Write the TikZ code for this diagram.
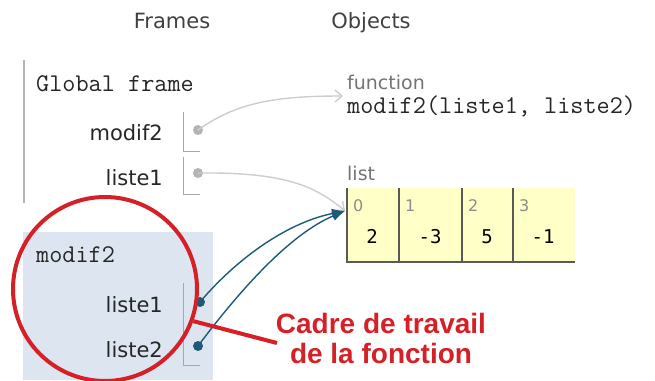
\documentclass[tikz,border=0pt]{standalone}
\usepackage{fontspec}
\setmainfont{DejaVu Sans}
\newfontfamily\valfont{DejaVu Sans Mono}
\newfontfamily\notefont{Liberation Sans}
\usetikzlibrary{arrows.meta}
\definecolor{ptline}{HTML}{A8A8A8}
\definecolor{ptlink}{HTML}{CDCDCD}
\definecolor{ptdot}{HTML}{B4B4B4}
\definecolor{ptblue}{HTML}{1D5A78}
\definecolor{ptyellow}{HTML}{FFFFC8}
\definecolor{ptframe}{HTML}{DDE6F0}
\definecolor{ptred}{HTML}{D42026}
\begin{document}
\begin{tikzpicture}[x=1pt,y=-1pt,
  head/.style={font=\fontsize{21}{21}\selectfont,text=black!75,inner sep=0pt,anchor=base},
  varname/.style={font=\fontsize{21}{21}\selectfont,text=black!85,inner sep=0pt,anchor=base east},
  code/.style={font=\ttfamily\fontsize{25.5}{25.5}\selectfont,text=black!85,inner sep=0pt,anchor=base west},
  tag/.style={font=\fontsize{19}{19}\selectfont,text=black!55,inner sep=0pt,anchor=base west},
  idx/.style={font=\fontsize{16}{16}\selectfont,text=black!45,inner sep=0pt,anchor=base west},
  val/.style={font=\valfont\fontsize{19}{19}\selectfont,inner sep=0pt,anchor=base},
  refdot/.style={circle,inner sep=0pt,minimum size=10pt,fill=#1},
  bracket/.style={ptline,line width=1pt},
  greylink/.style={ptlink,line width=1.4pt,-{Straight Barb[length=7pt,width=12pt]}},
  bluelink/.style={ptblue,line width=1.4pt,-{Latex[length=13pt,width=10pt]}}]
\useasboundingbox (0,0) rectangle (655,380);
% headings
\node[head] (frames) at (172,28) {Frames};
\node[head] (objects) at (371,28) {Objects};
%
% global frame
\draw[ptline!85,line width=1.2pt] (24,60) -- (24,203);
\node[code] (global) at (36,91) {Global frame};
\node[varname] (gmodif) at (163,140) {modif2};
\node[varname] (gliste) at (163,185) {liste1};
\draw[bracket] (183,112) -- (183,151) -- (200,151);
\draw[bracket] (183,157) -- (183,194) -- (200,194);
\node[refdot=ptdot] (dotmodif) at (198,130) {};
\node[refdot=ptdot] (dotliste) at (198,173) {};
%
% frame of the call
\fill[ptframe] (23,232) rectangle (213,380);
\node[code] (call) at (36,262) {modif2};
\node[varname] (argone) at (163,312) {liste1};
\node[varname] (argtwo) at (163,357) {liste2};
\draw[bracket] (183,283) -- (183,365) -- (200,365);
\node[refdot=ptblue] (dotone) at (200,302) {};
\node[refdot=ptblue] (dottwo) at (198,346) {};
%
% objects
\node[tag] (fntag) at (347,89) {function};
\node[code] (fnsig) at (347,113) {modif2(liste1, liste2)};
\node[tag] (lsttag) at (347,180) {list};
\fill[ptyellow] (347,188) rectangle (575,262);
\draw[black!65,line width=1.2pt] (347,188) -- (347,262) -- (575,262);
\draw[black!65,line width=1.2pt] (399,188) -- (399,262);
\draw[black!65,line width=1.2pt] (462,188) -- (462,262);
\draw[black!65,line width=1.2pt] (513,188) -- (513,262);
\node[idx] (i0) at (353,211) {0};
\node[idx] (i1) at (405,211) {1};
\node[idx] (i2) at (468,211) {2};
\node[idx] (i3) at (519,211) {3};
\node[val] (v0) at (372,243) {2};
\node[val] (v1) at (430,243) {-3};
\node[val] (v2) at (487,243) {5};
\node[val] (v3) at (543,243) {-1};
\coordinate (fntip) at (343,96);
\coordinate (lsttip) at (345,211);
%
% references
\draw[greylink] (dotmodif.center) .. controls (235,104) and (270,96) .. (fntip);
\draw[greylink] (dotliste.center) .. controls (285,172) and (315,186) .. (lsttip);
\draw[bluelink] (dotone.center) .. controls (240,255) and (290,222) .. (lsttip);
\draw[bluelink] (dottwo.center) .. controls (240,290) and (290,234) .. (lsttip);
%
% red note
\node[circle,draw=ptred,line width=4pt,minimum size=184pt,inner sep=0pt] (ring) at (105,289) {};
\node[font=\notefont\bfseries\fontsize{28}{30}\selectfont,text=ptred,align=center,inner sep=0pt] (note) at (381,338) {Cadre de travail\\de la fonction};
\coordinate (noteend) at (277,343);
\draw[ptred,line width=4pt] (ring.-20) -- (noteend);
\end{tikzpicture}
\end{document}
